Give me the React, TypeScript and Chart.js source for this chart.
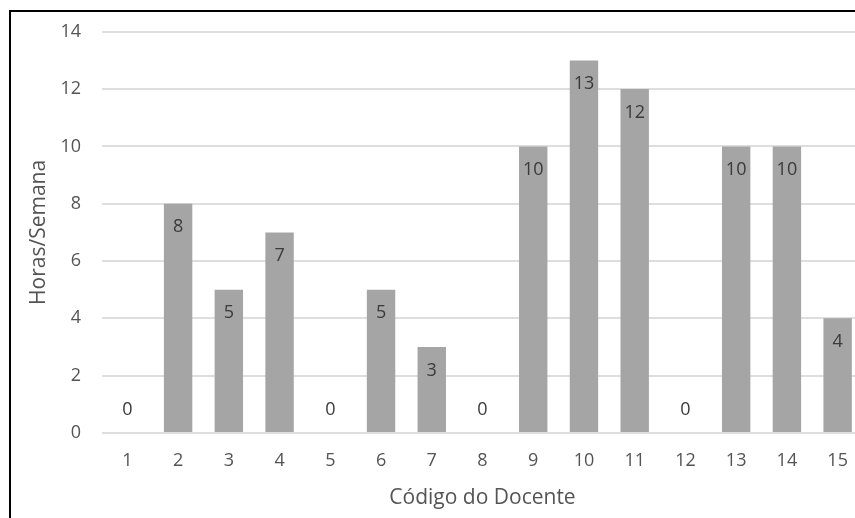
import React, { useEffect, useRef } from "react";
import { Chart, registerables } from "chart.js";

Chart.register(...registerables);

// Teacher codes along the x axis
const codigos = ["1", "2", "3", "4", "5", "6", "7", "8", "9", "10", "11", "12", "13", "14", "15"];
// Weekly hours per teacher
const horasSemana = [0, 8, 5, 7, 0, 5, 3, 0, 10, 13, 12, 0, 10, 10, 4];
// Y axis range
const yMin = 0;
const yMax = 14;
const yStep = 2;

const FONT = "'Open Sans', 'DejaVu Sans', sans-serif";

// Writes each bar's value just inside its top end (above the axis for zero bars)
const valueLabels = {
  id: "valueLabels",
  afterDatasetsDraw(chart: any) {
    const { ctx } = chart;
    const meta = chart.getDatasetMeta(0);
    const values = chart.data.datasets[0].data as number[];
    ctx.save();
    ctx.font = `18px ${FONT}`;
    ctx.fillStyle = "#3a3a3a";
    ctx.textAlign = "center";
    ctx.textBaseline = "middle";
    meta.data.forEach((bar: any, i: number) => {
      const v = values[i];
      const y = v > 0 ? bar.y + 23.5 : bar.base - 23.5;
      ctx.fillText(String(v), bar.x, y);
    });
    ctx.restore();
  },
};

export default function App() {
  const canvasRef = useRef<HTMLCanvasElement | null>(null);

  useEffect(() => {
    if (!canvasRef.current) return;
    const chart = new Chart(canvasRef.current, {
      type: "bar",
      data: {
        labels: codigos,
        datasets: [
          {
            data: horasSemana,
            backgroundColor: "#a5a5a5",
            borderWidth: 0,
            barPercentage: 0.56,
            categoryPercentage: 1,
          },
        ],
      },
      options: {
        responsive: false,
        animation: false,
        devicePixelRatio: 1,
        layout: { padding: { top: 30, right: 17, left: 0, bottom: 0 } },
        plugins: {
          legend: { display: false },
          tooltip: { enabled: false },
        },
        scales: {
          x: {
            grid: { display: false, drawTicks: false },
            border: { display: false },
            ticks: {
              color: "#545454",
              font: { family: FONT, size: 18 },
              padding: 17,
              maxRotation: 0,
              autoSkip: false,
            },
            title: {
              display: true,
              text: "Código do Docente",
              color: "#545454",
              font: { family: FONT, size: 21 },
              padding: { top: 0, bottom: 7 },
            },
            afterFit(scale: any) {
              scale.height = 85;
            },
          },
          y: {
            min: yMin,
            max: yMax,
            ticks: {
              stepSize: yStep,
              color: "#545454",
              font: { family: FONT, size: 18 },
              padding: 21,
            },
            grid: { color: "#dedede", lineWidth: 2, drawTicks: false },
            border: { display: false },
            title: {
              display: true,
              text: "Horas/Semana",
              color: "#545454",
              font: { family: FONT, size: 21 },
              padding: { top: 26, bottom: 0 },
            },
            afterFit(scale: any) {
              scale.width = 102;
            },
          },
        },
      },
      plugins: [valueLabels],
    });
    return () => chart.destroy();
  }, []);

  return (
    <div
      style={{
        position: "fixed",
        left: 0,
        top: 0,
        width: 855,
        height: 518,
        overflow: "hidden",
        background: "#ffffff",
      }}
    >
      <canvas
        ref={canvasRef}
        width={880}
        height={518}
        style={{ position: "absolute", left: 0, top: 0, display: "block" }}
      />
      <div
        style={{
          position: "absolute",
          left: 9,
          top: 10,
          width: 900,
          height: 600,
          borderLeft: "2px solid #000000",
          borderTop: "2px solid #000000",
          pointerEvents: "none",
        }}
      />
    </div>
  );
}
